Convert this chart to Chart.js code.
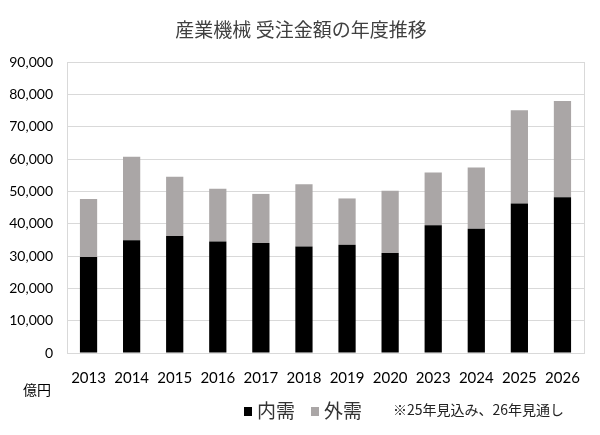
<!DOCTYPE html>
<html>
<head>
<meta charset="utf-8">
<script src="https://cdn.jsdelivr.net/npm/chart.js@4"></script>
<style>
  html, body { margin: 0; padding: 0; background: #fff; }
  #wrap { width: 600px; height: 435px; position: relative; }
</style>
</head>
<body>
<div id="wrap"><canvas id="myChart" width="600" height="435"></canvas></div>
<script>
const years = ['2013', '2014', '2015', '2016', '2017', '2018', '2019', '2020', '2023', '2024', '2025', '2026'];
const domestic = [29700, 34900, 36200, 34500, 34000, 32900, 33500, 30900, 39500, 38400, 46200, 48200];
const overseas = [17900, 25800, 18300, 16300, 15200, 19300, 14300, 19300, 16300, 19000, 28900, 29700];
const seriesNames = ['内需', '外需'];
const seriesColors = ['#000000', '#aaa6a6'];
const titleText = '産業機械 受注金額の年度推移';
const unitText = '億円';
const noteText = '※25年見込み、26年見通し';

const jpFont = '"Noto Sans CJK JP", sans-serif';
const numFont = 'Lato, "Noto Sans", sans-serif';

// title, unit, legend, note and the right edge of the plot frame
const extras = {
    id: 'extras',
    afterDraw(chart) {
        const ctx = chart.ctx;
        const area = chart.chartArea;
        ctx.save();
        ctx.strokeStyle = '#d9d9d9';
        ctx.lineWidth = 1;
        ctx.beginPath();
        ctx.moveTo(Math.round(area.right) + 0.5, area.top);
        ctx.lineTo(Math.round(area.right) + 0.5, area.bottom);
        ctx.stroke();

        ctx.fillStyle = '#404040';
        ctx.font = '19px ' + jpFont;
        ctx.textAlign = 'center';
        ctx.textBaseline = 'middle';
        ctx.fillText(titleText, 301, 30);

        ctx.fillStyle = '#000';
        ctx.font = '14px ' + jpFont;
        ctx.textAlign = 'left';
        ctx.fillText(unitText, 23, 390);

        // legend
        let x = 244;
        ctx.font = '19px ' + jpFont;
        for (let i = 0; i < seriesNames.length; i++) {
            ctx.fillStyle = seriesColors[i];
            ctx.fillRect(x, 407, 8, 9);
            ctx.fillStyle = '#333';
            ctx.fillText(seriesNames[i], x + 13, 411);
            x = 311;
        }
        ctx.font = '14px ' + jpFont;
        ctx.fillStyle = '#222';
        ctx.fillText(noteText, 393, 410);
        ctx.restore();
    }
};

const data = {
    labels: years,
    datasets: [{
        label: seriesNames[0],
        data: domestic,
        backgroundColor: seriesColors[0],
        barPercentage: 0.4,
        categoryPercentage: 1
    }, {
        label: seriesNames[1],
        data: overseas,
        backgroundColor: seriesColors[1],
        barPercentage: 0.4,
        categoryPercentage: 1
    }]
};

const config = {
    type: 'bar',
    data: data,
    options: {
        responsive: false,
        animation: false,
        layout: { padding: { left: 0, right: 16, top: 62, bottom: 0 } },
        plugins: {
            legend: { display: false },
            title: { display: false },
            tooltip: { enabled: false }
        },
        scales: {
            x: {
                stacked: true,
                grid: { display: false, drawTicks: false },
                border: { display: true, color: '#d9d9d9' },
                ticks: { color: '#000', font: { family: numFont, size: 15 }, padding: 16, maxRotation: 0 },
                afterFit(scale) { scale.height = 82; }
            },
            y: {
                stacked: true,
                min: 0,
                max: 90000,
                grid: { color: '#d9d9d9', drawTicks: false },
                border: { display: true, color: '#d9d9d9' },
                ticks: {
                    stepSize: 10000,
                    color: '#000',
                    padding: 14,
                    font: { family: numFont, size: 14 },
                    callback: (v) => v.toLocaleString('en-US')
                },
                afterFit(scale) { scale.width = 67; }
            }
        }
    },
    plugins: [extras]
};

let myChart = new Chart(document.getElementById('myChart'), config);
</script>
</body>
</html>
